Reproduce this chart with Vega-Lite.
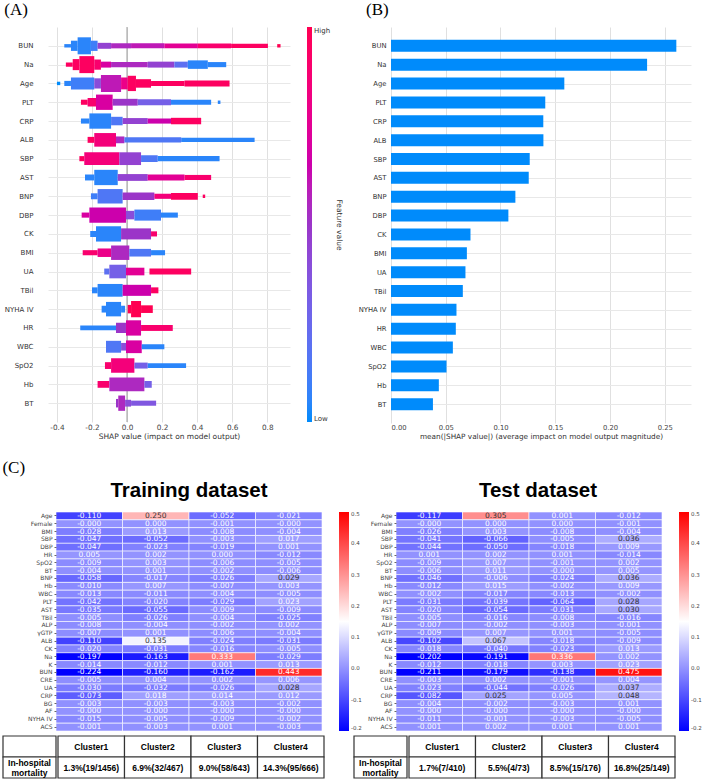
{
"$schema":"https://vega.github.io/schema/vega-lite/v6.json",
"padding":{"left":2,"top":0,"right":0,"bottom":0},
"config":{"font":"DejaVu Sans","view":{"stroke":null},"axis":{"labelColor":"#333","titleColor":"#333"},"locale":{"number":{"decimal":".","thousands":",","grouping":[3],"currency":["$",""],"minus":"-"}}},
"datasets":{
"swarm":[
{"f":"BUN","a":-0.358,"b":-0.320,"d":0.2,"c":0.05},{"f":"BUN","a":-0.320,"b":-0.282,"d":0.6,"c":0.05},{"f":"BUN","a":-0.282,"b":-0.206,"d":1.0,"c":0.05},{"f":"BUN","a":-0.206,"b":-0.168,"d":0.6,"c":0.1},{"f":"BUN","a":-0.168,"b":-0.091,"d":0.35,"c":0.45},{"f":"BUN","a":-0.091,"b":0.023,"d":0.3,"c":0.55},{"f":"BUN","a":0.023,"b":0.213,"d":0.3,"c":0.6},{"f":"BUN","a":0.213,"b":0.404,"d":0.28,"c":0.75},{"f":"BUN","a":0.404,"b":0.594,"d":0.28,"c":0.9},{"f":"BUN","a":0.594,"b":0.804,"d":0.25,"c":0.95},{"f":"BUN","a":0.857,"b":0.876,"d":0.2,"c":1},
{"f":"Na","a":-0.349,"b":-0.310,"d":0.25,"c":0.95},{"f":"Na","a":-0.310,"b":-0.272,"d":0.65,"c":0.95},{"f":"Na","a":-0.272,"b":-0.187,"d":1.0,"c":0.95},{"f":"Na","a":-0.187,"b":-0.149,"d":0.6,"c":0.9},{"f":"Na","a":-0.149,"b":-0.091,"d":0.35,"c":0.7},{"f":"Na","a":-0.091,"b":0.118,"d":0.3,"c":0.55},{"f":"Na","a":0.118,"b":0.270,"d":0.35,"c":0.45},{"f":"Na","a":0.270,"b":0.347,"d":0.35,"c":0.2},{"f":"Na","a":0.347,"b":0.461,"d":0.5,"c":0.05},{"f":"Na","a":0.461,"b":0.566,"d":0.3,"c":0.05},
{"f":"Age","a":-0.400,"b":-0.381,"d":0.2,"c":0},{"f":"Age","a":-0.358,"b":-0.320,"d":0.3,"c":0.05},{"f":"Age","a":-0.320,"b":-0.187,"d":0.7,"c":0.1},{"f":"Age","a":-0.187,"b":-0.149,"d":0.6,"c":0.4},{"f":"Age","a":-0.149,"b":-0.034,"d":1.0,"c":0.6},{"f":"Age","a":-0.034,"b":0.004,"d":0.7,"c":0.8},{"f":"Age","a":0.004,"b":0.051,"d":0.9,"c":0.95},{"f":"Age","a":0.051,"b":0.137,"d":0.5,"c":0.95},{"f":"Age","a":0.137,"b":0.328,"d":0.3,"c":0.95},{"f":"Age","a":0.328,"b":0.585,"d":0.35,"c":0.95},
{"f":"PLT","a":-0.263,"b":-0.225,"d":0.3,"c":0.95},{"f":"PLT","a":-0.225,"b":-0.177,"d":0.5,"c":0.9},{"f":"PLT","a":-0.177,"b":-0.082,"d":0.9,"c":0.7},{"f":"PLT","a":-0.082,"b":0.061,"d":0.4,"c":0.5},{"f":"PLT","a":0.061,"b":0.251,"d":0.35,"c":0.3},{"f":"PLT","a":0.251,"b":0.480,"d":0.3,"c":0.05},{"f":"PLT","a":0.518,"b":0.533,"d":0.2,"c":0.05},
{"f":"CRP","a":-0.263,"b":-0.215,"d":0.3,"c":0.05},{"f":"CRP","a":-0.215,"b":-0.091,"d":0.9,"c":0.05},{"f":"CRP","a":-0.091,"b":-0.025,"d":0.5,"c":0.15},{"f":"CRP","a":-0.025,"b":0.118,"d":0.35,"c":0.45},{"f":"CRP","a":0.118,"b":0.251,"d":0.3,"c":0.65},{"f":"CRP","a":0.251,"b":0.423,"d":0.38,"c":0.95},
{"f":"ALB","a":-0.225,"b":-0.187,"d":0.35,"c":0.95},{"f":"ALB","a":-0.187,"b":-0.063,"d":0.8,"c":0.85},{"f":"ALB","a":-0.063,"b":-0.015,"d":0.4,"c":0.55},{"f":"ALB","a":-0.015,"b":0.309,"d":0.3,"c":0.15},{"f":"ALB","a":0.309,"b":0.728,"d":0.25,"c":0.05},
{"f":"SBP","a":-0.272,"b":-0.244,"d":0.3,"c":0.95},{"f":"SBP","a":-0.244,"b":-0.044,"d":0.75,"c":0.85},{"f":"SBP","a":-0.044,"b":0.080,"d":0.75,"c":0.45},{"f":"SBP","a":0.080,"b":0.175,"d":0.4,"c":0.15},{"f":"SBP","a":0.175,"b":0.528,"d":0.3,"c":0.05},
{"f":"AST","a":-0.240,"b":-0.187,"d":0.35,"c":0.05},{"f":"AST","a":-0.187,"b":-0.053,"d":0.9,"c":0.05},{"f":"AST","a":-0.053,"b":0.118,"d":0.4,"c":0.45},{"f":"AST","a":0.118,"b":0.328,"d":0.35,"c":0.75},{"f":"AST","a":0.328,"b":0.480,"d":0.3,"c":0.9},
{"f":"BNP","a":-0.206,"b":-0.168,"d":0.35,"c":0.1},{"f":"BNP","a":-0.168,"b":-0.025,"d":0.85,"c":0.15},{"f":"BNP","a":-0.025,"b":0.156,"d":0.45,"c":0.5},{"f":"BNP","a":0.156,"b":0.251,"d":0.3,"c":0.85},{"f":"BNP","a":0.251,"b":0.404,"d":0.4,"c":0.95},{"f":"BNP","a":0.432,"b":0.446,"d":0.2,"c":0.95},
{"f":"DBP","a":-0.259,"b":-0.215,"d":0.3,"c":0.7},{"f":"DBP","a":-0.215,"b":-0.006,"d":0.9,"c":0.65},{"f":"DBP","a":-0.006,"b":0.042,"d":0.5,"c":0.4},{"f":"DBP","a":0.042,"b":0.194,"d":0.65,"c":0.1},{"f":"DBP","a":0.194,"b":0.290,"d":0.3,"c":0.05},
{"f":"CK","a":-0.210,"b":-0.177,"d":0.35,"c":0.05},{"f":"CK","a":-0.177,"b":-0.034,"d":0.9,"c":0.05},{"f":"CK","a":-0.034,"b":0.137,"d":0.65,"c":0.5},{"f":"CK","a":0.137,"b":0.171,"d":0.3,"c":0.9},
{"f":"BMI","a":-0.253,"b":-0.168,"d":0.3,"c":0.9},{"f":"BMI","a":-0.168,"b":-0.091,"d":0.5,"c":0.8},{"f":"BMI","a":-0.091,"b":0.013,"d":0.85,"c":0.55},{"f":"BMI","a":0.013,"b":0.137,"d":0.45,"c":0.15},{"f":"BMI","a":0.137,"b":0.217,"d":0.3,"c":0.05},
{"f":"UA","a":-0.130,"b":-0.101,"d":0.35,"c":0.2},{"f":"UA","a":-0.101,"b":-0.006,"d":0.8,"c":0.3},{"f":"UA","a":-0.006,"b":0.099,"d":0.45,"c":0.75},{"f":"UA","a":0.128,"b":0.366,"d":0.35,"c":0.95},
{"f":"TBil","a":-0.200,"b":-0.168,"d":0.35,"c":0.05},{"f":"TBil","a":-0.168,"b":-0.025,"d":0.75,"c":0.05},{"f":"TBil","a":-0.025,"b":0.137,"d":0.65,"c":0.65},{"f":"TBil","a":0.137,"b":0.179,"d":0.35,"c":0.95},
{"f":"NYHA IV","a":-0.145,"b":-0.120,"d":0.4,"c":0.05},{"f":"NYHA IV","a":-0.120,"b":-0.034,"d":0.85,"c":0.05},{"f":"NYHA IV","a":-0.034,"b":-0.011,"d":0.4,"c":0.05},{"f":"NYHA IV","a":0.004,"b":0.023,"d":0.5,"c":1},{"f":"NYHA IV","a":0.023,"b":0.080,"d":0.95,"c":1},{"f":"NYHA IV","a":0.080,"b":0.147,"d":0.45,"c":1},
{"f":"HR","a":-0.267,"b":-0.063,"d":0.28,"c":0.05},{"f":"HR","a":-0.063,"b":-0.006,"d":0.6,"c":0.5},{"f":"HR","a":-0.006,"b":0.080,"d":0.9,"c":0.7},{"f":"HR","a":0.080,"b":0.261,"d":0.35,"c":0.9},
{"f":"WBC","a":-0.120,"b":-0.034,"d":0.7,"c":0.15},{"f":"WBC","a":-0.034,"b":-0.006,"d":0.45,"c":0.4},{"f":"WBC","a":-0.006,"b":0.084,"d":0.75,"c":0.7},{"f":"WBC","a":0.084,"b":0.213,"d":0.3,"c":0.05},
{"f":"SpO2","a":-0.126,"b":-0.091,"d":0.4,"c":0.9},{"f":"SpO2","a":-0.091,"b":0.042,"d":0.85,"c":0.85},{"f":"SpO2","a":0.042,"b":0.118,"d":0.35,"c":0.3},{"f":"SpO2","a":0.118,"b":0.337,"d":0.28,"c":0.05},
{"f":"Hb","a":-0.168,"b":-0.101,"d":0.4,"c":0.9},{"f":"Hb","a":-0.101,"b":0.099,"d":0.8,"c":0.55},{"f":"Hb","a":0.099,"b":0.141,"d":0.4,"c":0.3},
{"f":"BT","a":-0.063,"b":-0.050,"d":0.5,"c":0.5},{"f":"BT","a":-0.050,"b":-0.011,"d":0.9,"c":0.55},{"f":"BT","a":-0.011,"b":0.023,"d":0.4,"c":0.4},{"f":"BT","a":0.023,"b":0.166,"d":0.3,"c":0.35}
],
"imp":[
{"f":"BUN","m":0.2606},{"f":"Na","m":0.2339},{"f":"Age","m":0.1583},{"f":"PLT","m":0.1409},{"f":"CRP","m":0.1391},{"f":"ALB","m":0.1392},{"f":"SBP","m":0.1267},{"f":"AST","m":0.1258},{"f":"BNP","m":0.1136},{"f":"DBP","m":0.1072},{"f":"CK","m":0.0726},{"f":"BMI","m":0.0693},{"f":"UA","m":0.0680},{"f":"TBil","m":0.0656},{"f":"NYHA IV","m":0.0598},{"f":"HR","m":0.0592},{"f":"WBC","m":0.0565},{"f":"SpO2","m":0.0507},{"f":"Hb","m":0.0437},{"f":"BT","m":0.0383}
],
"train":[
{"f":"Age","c":"Cluster1","v":-0.110},{"f":"Age","c":"Cluster2","v":0.250},{"f":"Age","c":"Cluster3","v":-0.052},{"f":"Age","c":"Cluster4","v":-0.021},
{"f":"Female","c":"Cluster1","v":-0.000},{"f":"Female","c":"Cluster2","v":0.000},{"f":"Female","c":"Cluster3","v":-0.001},{"f":"Female","c":"Cluster4","v":-0.000},
{"f":"BMI","c":"Cluster1","v":-0.028},{"f":"BMI","c":"Cluster2","v":0.013},{"f":"BMI","c":"Cluster3","v":-0.008},{"f":"BMI","c":"Cluster4","v":-0.004},
{"f":"SBP","c":"Cluster1","v":-0.047},{"f":"SBP","c":"Cluster2","v":-0.052},{"f":"SBP","c":"Cluster3","v":-0.003},{"f":"SBP","c":"Cluster4","v":0.017},
{"f":"DBP","c":"Cluster1","v":-0.047},{"f":"DBP","c":"Cluster2","v":-0.023},{"f":"DBP","c":"Cluster3","v":-0.019},{"f":"DBP","c":"Cluster4","v":0.001},
{"f":"HR","c":"Cluster1","v":0.005},{"f":"HR","c":"Cluster2","v":0.002},{"f":"HR","c":"Cluster3","v":0.000},{"f":"HR","c":"Cluster4","v":-0.012},
{"f":"SpO2","c":"Cluster1","v":-0.009},{"f":"SpO2","c":"Cluster2","v":0.003},{"f":"SpO2","c":"Cluster3","v":-0.006},{"f":"SpO2","c":"Cluster4","v":-0.005},
{"f":"BT","c":"Cluster1","v":-0.004},{"f":"BT","c":"Cluster2","v":0.001},{"f":"BT","c":"Cluster3","v":-0.002},{"f":"BT","c":"Cluster4","v":-0.006},
{"f":"BNP","c":"Cluster1","v":-0.058},{"f":"BNP","c":"Cluster2","v":-0.017},{"f":"BNP","c":"Cluster3","v":-0.026},{"f":"BNP","c":"Cluster4","v":0.029},
{"f":"Hb","c":"Cluster1","v":-0.010},{"f":"Hb","c":"Cluster2","v":0.007},{"f":"Hb","c":"Cluster3","v":-0.007},{"f":"Hb","c":"Cluster4","v":0.003},
{"f":"WBC","c":"Cluster1","v":-0.013},{"f":"WBC","c":"Cluster2","v":-0.011},{"f":"WBC","c":"Cluster3","v":-0.004},{"f":"WBC","c":"Cluster4","v":-0.005},
{"f":"PLT","c":"Cluster1","v":-0.042},{"f":"PLT","c":"Cluster2","v":-0.020},{"f":"PLT","c":"Cluster3","v":-0.029},{"f":"PLT","c":"Cluster4","v":0.023},
{"f":"AST","c":"Cluster1","v":-0.035},{"f":"AST","c":"Cluster2","v":-0.055},{"f":"AST","c":"Cluster3","v":-0.009},{"f":"AST","c":"Cluster4","v":-0.009},
{"f":"TBil","c":"Cluster1","v":-0.005},{"f":"TBil","c":"Cluster2","v":-0.026},{"f":"TBil","c":"Cluster3","v":-0.004},{"f":"TBil","c":"Cluster4","v":-0.025},
{"f":"ALP","c":"Cluster1","v":-0.008},{"f":"ALP","c":"Cluster2","v":-0.004},{"f":"ALP","c":"Cluster3","v":-0.002},{"f":"ALP","c":"Cluster4","v":0.002},
{"f":"γGTP","c":"Cluster1","v":-0.007},{"f":"γGTP","c":"Cluster2","v":0.001},{"f":"γGTP","c":"Cluster3","v":-0.006},{"f":"γGTP","c":"Cluster4","v":-0.004},
{"f":"ALB","c":"Cluster1","v":-0.110},{"f":"ALB","c":"Cluster2","v":0.135},{"f":"ALB","c":"Cluster3","v":-0.024},{"f":"ALB","c":"Cluster4","v":-0.031},
{"f":"CK","c":"Cluster1","v":-0.020},{"f":"CK","c":"Cluster2","v":-0.031},{"f":"CK","c":"Cluster3","v":-0.016},{"f":"CK","c":"Cluster4","v":-0.005},
{"f":"Na","c":"Cluster1","v":-0.197},{"f":"Na","c":"Cluster2","v":-0.163},{"f":"Na","c":"Cluster3","v":0.333},{"f":"Na","c":"Cluster4","v":-0.029},
{"f":"K","c":"Cluster1","v":-0.014},{"f":"K","c":"Cluster2","v":-0.012},{"f":"K","c":"Cluster3","v":0.001},{"f":"K","c":"Cluster4","v":0.013},
{"f":"BUN","c":"Cluster1","v":-0.224},{"f":"BUN","c":"Cluster2","v":-0.160},{"f":"BUN","c":"Cluster3","v":-0.162},{"f":"BUN","c":"Cluster4","v":0.443},
{"f":"CRE","c":"Cluster1","v":-0.005},{"f":"CRE","c":"Cluster2","v":0.004},{"f":"CRE","c":"Cluster3","v":0.002},{"f":"CRE","c":"Cluster4","v":0.006},
{"f":"UA","c":"Cluster1","v":-0.030},{"f":"UA","c":"Cluster2","v":-0.032},{"f":"UA","c":"Cluster3","v":-0.026},{"f":"UA","c":"Cluster4","v":0.028},
{"f":"CRP","c":"Cluster1","v":-0.073},{"f":"CRP","c":"Cluster2","v":0.018},{"f":"CRP","c":"Cluster3","v":0.014},{"f":"CRP","c":"Cluster4","v":0.012},
{"f":"BG","c":"Cluster1","v":-0.003},{"f":"BG","c":"Cluster2","v":-0.003},{"f":"BG","c":"Cluster3","v":-0.003},{"f":"BG","c":"Cluster4","v":-0.002},
{"f":"AF","c":"Cluster1","v":-0.000},{"f":"AF","c":"Cluster2","v":-0.000},{"f":"AF","c":"Cluster3","v":-0.000},{"f":"AF","c":"Cluster4","v":-0.000},
{"f":"NYHA IV","c":"Cluster1","v":-0.015},{"f":"NYHA IV","c":"Cluster2","v":-0.005},{"f":"NYHA IV","c":"Cluster3","v":-0.009},{"f":"NYHA IV","c":"Cluster4","v":-0.002},
{"f":"ACS","c":"Cluster1","v":-0.001},{"f":"ACS","c":"Cluster2","v":-0.003},{"f":"ACS","c":"Cluster3","v":0.001},{"f":"ACS","c":"Cluster4","v":-0.003}
],
"test":[
{"f":"Age","c":"Cluster1","v":-0.117},{"f":"Age","c":"Cluster2","v":0.305},{"f":"Age","c":"Cluster3","v":0.001},{"f":"Age","c":"Cluster4","v":-0.012},
{"f":"Female","c":"Cluster1","v":-0.000},{"f":"Female","c":"Cluster2","v":0.000},{"f":"Female","c":"Cluster3","v":0.000},{"f":"Female","c":"Cluster4","v":-0.001},
{"f":"BMI","c":"Cluster1","v":-0.026},{"f":"BMI","c":"Cluster2","v":0.003},{"f":"BMI","c":"Cluster3","v":-0.008},{"f":"BMI","c":"Cluster4","v":-0.004},
{"f":"SBP","c":"Cluster1","v":-0.041},{"f":"SBP","c":"Cluster2","v":-0.066},{"f":"SBP","c":"Cluster3","v":-0.005},{"f":"SBP","c":"Cluster4","v":0.036},
{"f":"DBP","c":"Cluster1","v":-0.044},{"f":"DBP","c":"Cluster2","v":-0.050},{"f":"DBP","c":"Cluster3","v":-0.018},{"f":"DBP","c":"Cluster4","v":0.009},
{"f":"HR","c":"Cluster1","v":0.001},{"f":"HR","c":"Cluster2","v":0.002},{"f":"HR","c":"Cluster3","v":0.001},{"f":"HR","c":"Cluster4","v":-0.014},
{"f":"SpO2","c":"Cluster1","v":-0.009},{"f":"SpO2","c":"Cluster2","v":0.007},{"f":"SpO2","c":"Cluster3","v":-0.001},{"f":"SpO2","c":"Cluster4","v":0.002},
{"f":"BT","c":"Cluster1","v":-0.006},{"f":"BT","c":"Cluster2","v":0.011},{"f":"BT","c":"Cluster3","v":-0.000},{"f":"BT","c":"Cluster4","v":0.005},
{"f":"BNP","c":"Cluster1","v":-0.046},{"f":"BNP","c":"Cluster2","v":-0.006},{"f":"BNP","c":"Cluster3","v":-0.024},{"f":"BNP","c":"Cluster4","v":0.036},
{"f":"Hb","c":"Cluster1","v":-0.012},{"f":"Hb","c":"Cluster2","v":0.015},{"f":"Hb","c":"Cluster3","v":-0.002},{"f":"Hb","c":"Cluster4","v":0.009},
{"f":"WBC","c":"Cluster1","v":-0.002},{"f":"WBC","c":"Cluster2","v":-0.017},{"f":"WBC","c":"Cluster3","v":-0.013},{"f":"WBC","c":"Cluster4","v":-0.002},
{"f":"PLT","c":"Cluster1","v":-0.031},{"f":"PLT","c":"Cluster2","v":-0.039},{"f":"PLT","c":"Cluster3","v":-0.064},{"f":"PLT","c":"Cluster4","v":0.028},
{"f":"AST","c":"Cluster1","v":-0.020},{"f":"AST","c":"Cluster2","v":-0.054},{"f":"AST","c":"Cluster3","v":-0.031},{"f":"AST","c":"Cluster4","v":0.030},
{"f":"TBil","c":"Cluster1","v":-0.005},{"f":"TBil","c":"Cluster2","v":-0.016},{"f":"TBil","c":"Cluster3","v":-0.008},{"f":"TBil","c":"Cluster4","v":-0.016},
{"f":"ALP","c":"Cluster1","v":-0.007},{"f":"ALP","c":"Cluster2","v":-0.002},{"f":"ALP","c":"Cluster3","v":-0.003},{"f":"ALP","c":"Cluster4","v":-0.001},
{"f":"γGTP","c":"Cluster1","v":-0.009},{"f":"γGTP","c":"Cluster2","v":0.007},{"f":"γGTP","c":"Cluster3","v":0.001},{"f":"γGTP","c":"Cluster4","v":-0.005},
{"f":"ALB","c":"Cluster1","v":-0.102},{"f":"ALB","c":"Cluster2","v":0.067},{"f":"ALB","c":"Cluster3","v":-0.018},{"f":"ALB","c":"Cluster4","v":-0.009},
{"f":"CK","c":"Cluster1","v":-0.018},{"f":"CK","c":"Cluster2","v":-0.040},{"f":"CK","c":"Cluster3","v":-0.023},{"f":"CK","c":"Cluster4","v":0.013},
{"f":"Na","c":"Cluster1","v":-0.202},{"f":"Na","c":"Cluster2","v":-0.191},{"f":"Na","c":"Cluster3","v":0.336},{"f":"Na","c":"Cluster4","v":0.002},
{"f":"K","c":"Cluster1","v":-0.012},{"f":"K","c":"Cluster2","v":-0.018},{"f":"K","c":"Cluster3","v":0.003},{"f":"K","c":"Cluster4","v":0.023},
{"f":"BUN","c":"Cluster1","v":-0.211},{"f":"BUN","c":"Cluster2","v":-0.179},{"f":"BUN","c":"Cluster3","v":-0.138},{"f":"BUN","c":"Cluster4","v":0.475},
{"f":"CRE","c":"Cluster1","v":-0.003},{"f":"CRE","c":"Cluster2","v":0.002},{"f":"CRE","c":"Cluster3","v":-0.001},{"f":"CRE","c":"Cluster4","v":0.004},
{"f":"UA","c":"Cluster1","v":-0.023},{"f":"UA","c":"Cluster2","v":-0.044},{"f":"UA","c":"Cluster3","v":-0.026},{"f":"UA","c":"Cluster4","v":0.037},
{"f":"CRP","c":"Cluster1","v":-0.082},{"f":"CRP","c":"Cluster2","v":0.025},{"f":"CRP","c":"Cluster3","v":0.005},{"f":"CRP","c":"Cluster4","v":0.048},
{"f":"BG","c":"Cluster1","v":-0.004},{"f":"BG","c":"Cluster2","v":-0.002},{"f":"BG","c":"Cluster3","v":-0.003},{"f":"BG","c":"Cluster4","v":0.001},
{"f":"AF","c":"Cluster1","v":-0.000},{"f":"AF","c":"Cluster2","v":-0.000},{"f":"AF","c":"Cluster3","v":-0.000},{"f":"AF","c":"Cluster4","v":-0.000},
{"f":"NYHA IV","c":"Cluster1","v":-0.011},{"f":"NYHA IV","c":"Cluster2","v":-0.001},{"f":"NYHA IV","c":"Cluster3","v":-0.003},{"f":"NYHA IV","c":"Cluster4","v":-0.005},
{"f":"ACS","c":"Cluster1","v":-0.001},{"f":"ACS","c":"Cluster2","v":0.002},{"f":"ACS","c":"Cluster3","v":0.001},{"f":"ACS","c":"Cluster4","v":0.001}
],
"trainTable":[
{"c":"Cluster1","r":"h","t":"Cluster1"},{"c":"Cluster2","r":"h","t":"Cluster2"},{"c":"Cluster3","r":"h","t":"Cluster3"},{"c":"Cluster4","r":"h","t":"Cluster4"},
{"c":"Cluster1","r":"b","t":"1.3%(19/1456)"},{"c":"Cluster2","r":"b","t":"6.9%(32/467)"},{"c":"Cluster3","r":"b","t":"9.0%(58/643)"},{"c":"Cluster4","r":"b","t":"14.3%(95/666)"}
],
"testTable":[
{"c":"Cluster1","r":"h","t":"Cluster1"},{"c":"Cluster2","r":"h","t":"Cluster2"},{"c":"Cluster3","r":"h","t":"Cluster3"},{"c":"Cluster4","r":"h","t":"Cluster4"},
{"c":"Cluster1","r":"b","t":"1.7%(7/410)"},{"c":"Cluster2","r":"b","t":"5.5%(4/73)"},{"c":"Cluster3","r":"b","t":"8.5%(15/176)"},{"c":"Cluster4","r":"b","t":"16.8%(25/149)"}
],
"labelCol":[
{"k":"label","r":"h","t":""},{"k":"label","r":"b","t":"In-hospital\nmortality"}
]
},
"resolve":{"scale":{"color":"independent","size":"independent"}},
"spacing":18,
"vconcat":[
{
"resolve":{"scale":{"color":"independent","size":"independent"}},
"spacing":15,
"hconcat":[
{
"resolve":{"scale":{"color":"independent","size":"independent"}},
"spacing":0,
"hconcat":[
{"width":1,"height":395,"data":{"values":[]},"mark":{"type":"rect"},"encoding":{}},
{
"width":242,"height":395,
"title":{"text":"(A)","anchor":"start","frame":"bounds","font":"Liberation Serif","fontSize":17,"fontWeight":"normal","color":"#000","offset":8},
"layer":[
{"data":{"values":[{}]},"mark":{"type":"rule","color":"#999999","strokeWidth":1},"encoding":{"x":{"datum":0,"type":"quantitative"}}},
{"data":{"name":"swarm"},"mark":{"type":"bar"},
"encoding":{
"y":{"field":"f","type":"nominal","scale":{"type":"point","padding":1,"domain":["BUN","Na","Age","PLT","CRP","ALB","SBP","AST","BNP","DBP","CK","BMI","UA","TBil","NYHA IV","HR","WBC","SpO2","Hb","BT"]},"axis":{"title":null,"labelFontSize":7,"labelColor":"#333","ticks":false,"domain":false,"labelPadding":15,"grid":true,"gridColor":"#e8e8e8"}},
"x":{"field":"a","type":"quantitative","scale":{"domain":[-0.451,0.93],"nice":false,"zero":false},"axis":{"values":[-0.4,-0.2,0,0.2,0.4,0.6,0.8],"format":".1f","title":"SHAP value (impact on model output)","titleFontSize":7.5,"titleFontWeight":"normal","titlePadding":2,"labelFontSize":7.3,"labelColor":"#444","ticks":false,"domain":false,"grid":true,"gridColor":"#e0e0e0","labelPadding":1}},
"x2":{"field":"b"},
"size":{"field":"d","type":"quantitative","scale":{"domain":[0,1],"range":[0,17]},"legend":null},
"color":{"field":"c","type":"quantitative","scale":{"domain":[0,0.5,1],"range":["#008bfb","#9b35c8","#ff0052"]},
"legend":{"direction":"vertical","gradientLength":395,"gradientThickness":5,"gradientStrokeWidth":0,"values":[0,1],"labelExpr":"datum.value == 1 ? 'High' : 'Low'","labelFontSize":7,"labelColor":"#333","title":"Feature value","titleOrient":"right","titleAngle":270,"titleAnchor":"middle","titleFontSize":7.5,"titleFontWeight":"normal","titleColor":"#333","offset":17,"padding":0}}
}}
]
}
]
},
{
"width":300,"height":396,
"title":{"text":"(B)","anchor":"start","frame":"group","dx":-25,"font":"Liberation Serif","fontSize":17,"fontWeight":"normal","color":"#000","offset":8},
"data":{"name":"imp"},
"mark":{"type":"bar","size":12,"color":"#008bfb"},
"encoding":{
"y":{"field":"f","type":"nominal","scale":{"type":"point","padding":1,"domain":["BUN","Na","Age","PLT","CRP","ALB","SBP","AST","BNP","DBP","CK","BMI","UA","TBil","NYHA IV","HR","WBC","SpO2","Hb","BT"]},"axis":{"title":null,"labelFontSize":6.8,"labelColor":"#333","ticks":false,"domain":false,"labelPadding":5,"grid":true,"gridColor":"#e8e8e8"}},
"x":{"field":"m","type":"quantitative","scale":{"domain":[0,0.274],"nice":false},"axis":{"values":[0,0.05,0.1,0.15,0.2,0.25],"format":".2f","title":"mean(|SHAP value|) (average impact on model output magnitude)","titleFontSize":7.3,"titleFontWeight":"normal","titlePadding":2,"labelFontSize":6.8,"labelColor":"#444","ticks":false,"domain":false,"grid":true,"gridColor":"#e0e0e0","labelPadding":1}}
}
}
]
},
{
"title":{"text":"(C)","anchor":"start","frame":"bounds","font":"Liberation Serif","fontSize":17,"fontWeight":"normal","color":"#000","offset":4},
"resolve":{"scale":{"color":"independent"}},
"spacing":3,
"vconcat":[
{
"resolve":{"scale":{"color":"independent"}},
"spacing":0,
"hconcat":[
{"width":1,"height":219,"data":{"values":[]},"mark":{"type":"rect"},"encoding":{}},
{
"width":266,"height":219,
"title":{"text":"Training dataset","font":"Liberation Sans","fontSize":20.5,"fontWeight":"bold","color":"#000","offset":10},
"data":{"name":"train"},
"encoding":{
"x":{"field":"c","type":"nominal","axis":null},
"y":{"field":"f","type":"nominal","sort":["Age","Female","BMI","SBP","DBP","HR","SpO2","BT","BNP","Hb","WBC","PLT","AST","TBil","ALP","γGTP","ALB","CK","Na","K","BUN","CRE","UA","CRP","BG","AF","NYHA IV","ACS"],"axis":{"title":null,"labelFontSize":6,"labelColor":"#444","ticks":true,"tickSize":2,"tickColor":"#666","domain":false,"labelPadding":2,"minExtent":52,"maxExtent":52}}
},
"layer":[
{"mark":{"type":"rect","stroke":"white","strokeWidth":0.6},
"encoding":{"color":{"field":"v","type":"quantitative","scale":{"domain":[-0.2,0.15,0.5],"range":["#0000ff","#ffffff","#ff0000"],"interpolate":"rgb"},
"legend":{"direction":"vertical","gradientLength":219,"gradientThickness":10,"gradientStrokeWidth":0,"values":[-0.2,-0.1,0,0.1,0.2,0.3,0.4,0.5],"format":".1f","labelFontSize":5.5,"labelColor":"#444","title":null,"offset":17,"padding":0}}}},
{"mark":{"type":"text","fontSize":7.5},
"encoding":{"text":{"condition":{"test":"datum.v === 0 && 1 / datum.v < 0","value":"-0.000"},"field":"v","type":"quantitative","format":".3f"},"color":{"condition":{"test":"datum.v >= 0.024 && datum.v < 0.32","value":"#333"},"value":"white"}}}
]
},
{
"width":266,"height":219,
"title":{"text":"Test dataset","font":"Liberation Sans","fontSize":20.5,"fontWeight":"bold","color":"#000","offset":10,"dx":9},
"data":{"name":"test"},
"encoding":{
"x":{"field":"c","type":"nominal","axis":null},
"y":{"field":"f","type":"nominal","sort":["Age","Female","BMI","SBP","DBP","HR","SpO2","BT","BNP","Hb","WBC","PLT","AST","TBil","ALP","γGTP","ALB","CK","Na","K","BUN","CRE","UA","CRP","BG","AF","NYHA IV","ACS"],"axis":{"title":null,"labelFontSize":6,"labelColor":"#444","ticks":true,"tickSize":2,"tickColor":"#666","domain":false,"labelPadding":2,"minExtent":34}}
},
"layer":[
{"mark":{"type":"rect","stroke":"white","strokeWidth":0.6},
"encoding":{"color":{"field":"v","type":"quantitative","scale":{"domain":[-0.2,0.15,0.5],"range":["#0000ff","#ffffff","#ff0000"],"interpolate":"rgb"},
"legend":{"direction":"vertical","gradientLength":219,"gradientThickness":10,"gradientStrokeWidth":0,"values":[-0.2,-0.1,0,0.1,0.2,0.3,0.4,0.5],"format":".1f","labelFontSize":5.5,"labelColor":"#444","title":null,"offset":17,"padding":0}}}},
{"mark":{"type":"text","fontSize":7.5},
"encoding":{"text":{"condition":{"test":"datum.v === 0 && 1 / datum.v < 0","value":"-0.000"},"field":"v","type":"quantitative","format":".3f"},"color":{"condition":{"test":"datum.v >= 0.024 && datum.v < 0.32","value":"#333"},"value":"white"}}}
]
}
]
},
{
"spacing":28,
"hconcat":[
{
"spacing":0,
"hconcat":[
{"width":53,"height":42,"data":{"name":"labelCol"},
"encoding":{"x":{"field":"k","type":"nominal","axis":null},"y":{"field":"r","type":"nominal","sort":["h","b"],"axis":null}},
"layer":[
{"mark":{"type":"rect","fill":"white","stroke":"#333","strokeWidth":1.2}},
{"mark":{"type":"text","font":"Liberation Sans","fontWeight":"bold","fontSize":8.5,"lineBreak":"\n","color":"#000","dy":-5},"encoding":{"text":{"field":"t"}}}
]},
{"width":266,"height":42,"data":{"name":"trainTable"},
"encoding":{"x":{"field":"c","type":"nominal","axis":null},"y":{"field":"r","type":"nominal","sort":["h","b"],"axis":null}},
"layer":[
{"mark":{"type":"rect","fill":"white","stroke":"#333","strokeWidth":1.2}},
{"mark":{"type":"text","font":"Liberation Sans","fontWeight":"bold","fontSize":8.5,"color":"#000"},"encoding":{"text":{"field":"t"}}}
]}
]
},
{
"spacing":0,
"hconcat":[
{"width":53,"height":42,"data":{"name":"labelCol"},
"encoding":{"x":{"field":"k","type":"nominal","axis":null},"y":{"field":"r","type":"nominal","sort":["h","b"],"axis":null}},
"layer":[
{"mark":{"type":"rect","fill":"white","stroke":"#333","strokeWidth":1.2}},
{"mark":{"type":"text","font":"Liberation Sans","fontWeight":"bold","fontSize":8.5,"lineBreak":"\n","color":"#000","dy":-5},"encoding":{"text":{"field":"t"}}}
]},
{"width":266,"height":42,"data":{"name":"testTable"},
"encoding":{"x":{"field":"c","type":"nominal","axis":null},"y":{"field":"r","type":"nominal","sort":["h","b"],"axis":null}},
"layer":[
{"mark":{"type":"rect","fill":"white","stroke":"#333","strokeWidth":1.2}},
{"mark":{"type":"text","font":"Liberation Sans","fontWeight":"bold","fontSize":8.5,"color":"#000"},"encoding":{"text":{"field":"t"}}}
]}
]
}
]
}
]
}
]
}
